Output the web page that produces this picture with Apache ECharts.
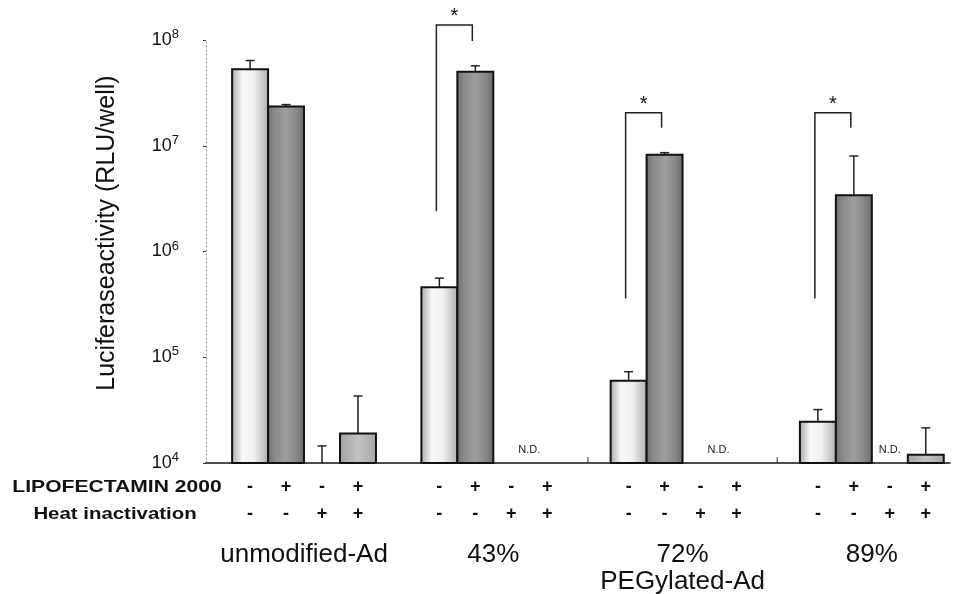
<!DOCTYPE html>
<html><head><meta charset="utf-8">
<script src="https://cdn.jsdelivr.net/npm/echarts@6/dist/echarts.min.js"></script>
<style>html,body{margin:0;padding:0;background:#fff}#c{width:957px;height:594px}</style>
</head><body><div id="c"></div>
<script>
// ---------- data ----------
const groups = ['unmodified-Ad', '43%', '72%', '89%'];
const superGroupLabel = 'PEGylated-Ad';
const superGroupMembers = [1, 2, 3];
const lipofectamine = ['-', '+', '-', '+'];
const heatInactivation = ['-', '-', '+', '+'];
const yTickValues = [1e4, 1e5, 1e6, 1e7, 1e8];
const yTitle = 'Luciferaseactivity (RLU/well)';
const rowTitleLipo = 'LIPOFECTAMIN 2000';
const rowTitleHeat = 'Heat inactivation';
const ndText = 'N.D.';
const sigMark = '*';

// mean values (RLU/well) per condition, null = N.D.
const meanLipoNegHeatNeg = [5.3e7, 4.6e5, 6.0e4, 2.45e4];
const meanLipoPosHeatNeg = [2.35e7, 5.0e7, 8.2e6, 3.4e6];
const meanLipoNegHeatPos = [1.0e4, null, null, null];
const meanLipoPosHeatPos = [1.9e4, null, null, 1.2e4];
// top of error bar (mean + SD)
const errLipoNegHeatNeg = [6.4e7, 5.6e5, 7.3e4, 3.2e4];
const errLipoPosHeatNeg = [2.45e7, 5.7e7, 8.6e6, 8.0e6];
const errLipoNegHeatPos = [1.45e4, null, null, null];
const errLipoPosHeatPos = [4.3e4, null, null, 2.15e4];

// significance brackets (group index, left foot, right foot, top level)
const sigGroups = [1, 2, 3];
const sigLeftFoot = [2.4e6, 3.6e5, 3.6e5];
const sigRightFoot = [9.8e7, 1.48e7, 1.48e7];
const sigTop = [1.39e8, 2.05e7, 2.05e7];

// group separators on the baseline (before these group indices)
const separatorBefore = [2, 3];

// ---------- build ----------
const BASE = 1e4;
const BW = 0.19;
const FONT = 'Liberation Sans, Arial, Helvetica, sans-serif';
const condMeans = [meanLipoNegHeatNeg, meanLipoPosHeatNeg, meanLipoNegHeatPos, meanLipoPosHeatPos];
const condErr = [errLipoNegHeatNeg, errLipoPosHeatNeg, errLipoNegHeatPos, errLipoPosHeatPos];
function slotX(gi, ci) { return gi + (ci - 1.5) * BW; }

function makeFill(ci) {
  const G = echarts.graphic.LinearGradient;
  if (ci === 0) return new G(0, 0, 1, 0, [
    {offset: 0, color: '#a4a4a4'}, {offset: 0.12, color: '#c6c6c6'}, {offset: 0.3, color: '#f8f8f8'},
    {offset: 0.6, color: '#f0f0f0'}, {offset: 0.82, color: '#cbcbcb'}, {offset: 1, color: '#ababab'}]);
  if (ci === 1) return new G(0, 0, 1, 0, [
    {offset: 0, color: '#6c6c6c'}, {offset: 0.2, color: '#8a8a8a'}, {offset: 0.5, color: '#9e9e9e'},
    {offset: 0.8, color: '#858585'}, {offset: 1, color: '#666666'}]);
  return new G(0, 0, 1, 0, [
    {offset: 0, color: '#a0a0a0'}, {offset: 0.5, color: '#c2c2c2'}, {offset: 1, color: '#a6a6a6'}]);
}

const barData = [];
groups.forEach((g, gi) => condMeans.forEach((arr, ci) => {
  if (arr[gi] != null) barData.push([gi, ci, arr[gi], condErr[ci][gi]]);
}));
const slotData = [];
groups.forEach((g, gi) => condMeans.forEach((arr, ci) => slotData.push([gi, ci])));
const sigData = sigGroups.map((g, i) => [g, sigLeftFoot[i], sigRightFoot[i], sigTop[i]]);
const groupData = groups.map((g, i) => [i]);

const chart = echarts.init(document.getElementById('c'), null, {renderer: 'canvas'});
chart.setOption({
  animation: false,
  backgroundColor: '#fff',
  grid: {left: 206, right: 7, top: 40, bottom: 131, containLabel: false},
  xAxis: {
    type: 'value', min: -0.518, max: 3.413,
    axisLine: {show: true, onZero: false, lineStyle: {color: '#111', width: 1.5}},
    axisTick: {show: false}, axisLabel: {show: false}, splitLine: {show: false}
  },
  yAxis: {
    type: 'log', logBase: 10, min: yTickValues[0], max: yTickValues[yTickValues.length - 1],
    axisLine: {show: true, onZero: false, lineStyle: {color: '#8a8a8a', type: [1, 3], width: 1}},
    axisTick: {show: true, length: 3, lineStyle: {color: '#333', width: 1}},
    splitLine: {show: false},
    axisLabel: {
      margin: 27,
      formatter: v => '{b|10}{s|' + Math.round(Math.log10(v)) + '}',
      rich: {
        b: {fontSize: 18, fontFamily: FONT, color: '#111', lineHeight: 24},
        s: {fontSize: 13, fontFamily: FONT, color: '#111', lineHeight: 14, verticalAlign: 'top'}
      }
    }
  },
  graphic: [
    {type: 'text', x: 107, y: 233, rotation: Math.PI / 2,
     style: {text: yTitle, font: '25px ' + FONT, fill: '#111', align: 'center', verticalAlign: 'middle'}},
    {type: 'text', x: 117, y: 487, scaleX: 1.24,
     style: {text: rowTitleLipo, font: 'bold 17px ' + FONT, fill: '#111', align: 'center', verticalAlign: 'middle'}},
    {type: 'text', x: 115, y: 514, scaleX: 1.2,
     style: {text: rowTitleHeat, font: 'bold 17px ' + FONT, fill: '#111', align: 'center', verticalAlign: 'middle'}}
  ],
  series: [
    {
      type: 'custom', name: 'bars', coordinateSystem: 'cartesian2d', clip: false,
      data: barData,
      renderItem: (params, api) => {
        const gi = api.value(0), ci = api.value(1), v = api.value(2), e = api.value(3);
        const x = slotX(gi, ci);
        const p0 = api.coord([x - BW / 2, v]);
        const p1 = api.coord([x + BW / 2, BASE]);
        const children = [];
        const c = api.coord([x, v]);
        const t = api.coord([x, e]);
        children.push({type: 'line', shape: {x1: c[0], y1: c[1], x2: t[0], y2: t[1]}, style: {stroke: '#222', lineWidth: 1.5}});
        children.push({type: 'line', shape: {x1: t[0] - 4.5, y1: t[1], x2: t[0] + 4.5, y2: t[1]}, style: {stroke: '#222', lineWidth: 1.5}});
        if (v > BASE) {
          children.push({type: 'rect', shape: {x: p0[0], y: p0[1], width: p1[0] - p0[0], height: p1[1] - p0[1]},
            style: {fill: makeFill(ci), stroke: '#111', lineWidth: 2}});
        }
        return {type: 'group', children};
      }
    },
    {
      type: 'custom', name: 'slots', coordinateSystem: 'cartesian2d', clip: false,
      data: slotData,
      renderItem: (params, api) => {
        const gi = api.value(0), ci = api.value(1);
        const p = api.coord([slotX(gi, ci), BASE]);
        const children = [
          {type: 'text', style: {x: p[0], y: p[1] + 24, text: lipofectamine[ci], font: 'bold 18px ' + FONT, fill: '#111', align: 'center', verticalAlign: 'middle'}},
          {type: 'text', style: {x: p[0], y: p[1] + 51, text: heatInactivation[ci], font: 'bold 18px ' + FONT, fill: '#111', align: 'center', verticalAlign: 'middle'}}
        ];
        // N.D. label: centred over the run of undetected slots in this group
        const nd = condMeans.map((arr, k) => arr[gi] == null ? k : -1).filter(k => k >= 0);
        if (nd.length && nd[0] === ci) {
          const mid = nd.reduce((s, k) => s + slotX(gi, k), 0) / nd.length;
          const q = api.coord([mid, BASE]);
          children.push({type: 'text', style: {x: q[0], y: q[1] - 13, text: ndText, font: '11px ' + FONT, fill: '#222', align: 'center', verticalAlign: 'middle'}});
        }
        return {type: 'group', children};
      }
    },
    {
      type: 'custom', name: 'sig', coordinateSystem: 'cartesian2d', clip: false,
      data: sigData,
      renderItem: (params, api) => {
        const g = api.value(0);
        const lf = api.coord([slotX(g, 0), api.value(1)]);
        const rf = api.coord([slotX(g, 1), api.value(2)]);
        const top = api.coord([slotX(g, 0), api.value(3)])[1];
        const xl = lf[0] - 3, xr = rf[0] - 3;
        return {type: 'group', children: [
          {type: 'polyline', shape: {points: [[xl, lf[1]], [xl, top], [xr, top], [xr, rf[1]]]},
           style: {stroke: '#222', lineWidth: 1.5, fill: null}},
          {type: 'text', style: {x: (xl + xr) / 2, y: top - 8, text: sigMark, font: '20px ' + FONT, fill: '#111', align: 'center', verticalAlign: 'middle'}}
        ]};
      }
    },
    {
      type: 'custom', name: 'groups', coordinateSystem: 'cartesian2d', clip: false,
      data: groupData,
      renderItem: (params, api) => {
        const gi = api.value(0);
        const p = api.coord([gi, BASE]);
        const children = [
          {type: 'text', style: {x: p[0], y: p[1] + 92, text: groups[gi], font: '26px ' + FONT, fill: '#111', align: 'center', verticalAlign: 'middle'}}
        ];
        if (separatorBefore.indexOf(gi) >= 0) {
          const s = api.coord([gi - 0.5, BASE]);
          children.push({type: 'line', shape: {x1: s[0], y1: s[1], x2: s[0], y2: s[1] - 6}, style: {stroke: '#333', lineWidth: 1}});
        }
        if (gi === superGroupMembers[0]) {
          const mid = superGroupMembers.reduce((a, b) => a + b, 0) / superGroupMembers.length;
          const q = api.coord([mid, BASE]);
          children.push({type: 'text', style: {x: q[0], y: q[1] + 119, text: superGroupLabel, font: '26px ' + FONT, fill: '#111', align: 'center', verticalAlign: 'middle'}});
        }
        return {type: 'group', children};
      }
    }
  ]
});
</script>
</body></html>
